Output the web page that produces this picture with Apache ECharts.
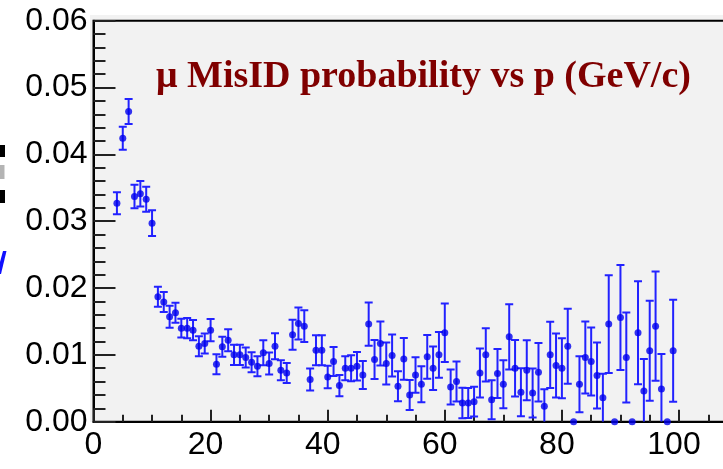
<!DOCTYPE html>
<html><head><meta charset="utf-8">
<script src="https://cdn.jsdelivr.net/npm/echarts@6/dist/echarts.min.js"></script>
<style>html,body{margin:0;padding:0;background:#fff}#c{width:723px;height:469px}</style>
</head><body><div id="c"></div>
<script>
// momentum bin centres (GeV/c)
const binCenters = [4,5,6,7,8,9,10,11,12,13,14,15,16,17,18,19,20,21,22,23,24,25,26,27,28,29,30,31,32,33,34,35,36,37,38,39,40,41,42,43,44,45,46,47,48,49,50,51,52,53,54,55,56,57,58,59,60,61,62,63,64,65,66,67,68,69,70,71,72,73,74,75,76,77,78,79,80,81,82,83,84,85,86,87,88,89,90,91,92,93,94,95,96,97,98,99];
// mis-ID probability
const probability = [0.0327,0.0424,0.0464,0.0337,0.0341,0.0333,0.0297,0.0187,0.0179,0.0157,0.0163,0.0140,0.0140,0.0137,0.0113,0.0117,0.0137,0.0086,0.0112,0.0122,0.0100,0.0100,0.0096,0.0089,0.0083,0.0103,0.0087,0.0113,0.0077,0.0073,0.0130,0.0147,0.0143,0.0063,0.0107,0.0107,0.0067,0.0090,0.0054,0.0080,0.0080,0.0083,0.0070,0.0146,0.0093,0.0117,0.0087,0.0099,0.0053,0.0094,0.0040,0.0070,0.0056,0.0097,0.0080,0.0100,0.0133,0.0052,0.0060,0.0028,0.0028,0.0030,0.0073,0.0100,0.0033,0.0072,0.0056,0.0127,0.0080,0.0044,0.0077,0.0043,0.0074,0.0023,0.0100,0.0084,0.0080,0.0113,0.0000,0.0056,0.0096,0.0090,0.0069,0.0036,0.0146,0.0000,0.0156,0.0096,0.0000,0.0133,0.0046,0.0106,0.0143,0.0049,0.0000,0.0106];
// statistical uncertainty
const probErr = [0.00165,0.00172,0.00187,0.00175,0.0019,0.00187,0.00192,0.0015,0.0015,0.00165,0.0015,0.00142,0.0015,0.0015,0.0015,0.0015,0.00165,0.0015,0.0015,0.00165,0.0015,0.0015,0.0015,0.0015,0.0015,0.00187,0.00165,0.00195,0.0015,0.0015,0.00224,0.00239,0.00239,0.00165,0.00224,0.00224,0.00169,0.00217,0.0016,0.0018,0.00195,0.00214,0.0021,0.00325,0.00292,0.00329,0.00314,0.00314,0.00224,0.00314,0.00224,0.00265,0.00269,0.00329,0.00325,0.00341,0.00438,0.00262,0.00299,0.00229,0.00224,0.00224,0.00367,0.004,0.00292,0.00367,0.00359,0.00489,0.00423,0.00359,0.00449,0.00367,0.00438,0.00254,0.00494,0.00479,0.00449,0.00561,0,0.00419,0.00539,0.00509,0.00494,0.00359,0.00733,0,0.00786,0.00673,0,0.00771,0.00479,0.00748,0.00818,0.00524,0,0.00763];
const xTickValues = [0, 20, 40, 60, 80, 100];
const yTickLabels = ['0.00','0.01','0.02','0.03','0.04','0.05','0.06'];
const titleText = 'μ MisID probability vs p (GeV/c)';

const chart = echarts.init(document.getElementById('c'), null, {renderer: 'canvas'});
const pts = binCenters.map((x, i) => [x, probability[i], probErr[i]]);
const barColor = '#2222ff';

const option = {
  animation: false,
  backgroundColor: '#ffffff',
  grid: {left: 93.5, top: 20.7, width: 702.6, height: 401, show: true,
         outerBoundsMode: 'none', containLabel: false,
         backgroundColor: 'transparent', borderColor: '#000', borderWidth: 2},
  graphic: [
    {type: 'rect', z: -10, shape: {x: 90, y: 15, width: 640, height: 407}, style: {fill: '#f2f2f2'}},
    {type: 'rect', shape: {x: 0, y: 145, width: 5, height: 12}, style: {fill: '#000'}},
    {type: 'rect', shape: {x: 0, y: 165, width: 4.5, height: 14}, style: {fill: '#b4b4b4'}},
    {type: 'rect', shape: {x: 0, y: 190, width: 5, height: 13}, style: {fill: '#000'}},
    {type: 'polygon', shape: {points: [[3, 251], [6.5, 251], [1, 274], [0, 274], [0, 262]]}, style: {fill: '#1010ff'}},
    {type: 'text', x: 156, y: 77, style: {text: titleText, fill: '#800000',
      font: 'bold 38px "Liberation Serif", "DejaVu Serif", serif', textVerticalAlign: 'middle', verticalAlign: 'middle'}}
  ],
  xAxis: {
    type: 'value', min: 0, max: 120, interval: 20,
    axisLine: {show: true, onZero: false, lineStyle: {color: '#000', width: 2}},
    axisTick: {show: true, inside: true, length: 12, lineStyle: {color: '#222', width: 2}},
    minorTick: {show: true, splitNumber: 4, length: 7, lineStyle: {color: '#222', width: 2}},
    splitLine: {show: false},
    axisLabel: {
      margin: 7, color: '#000', fontSize: 32, fontFamily: '"Liberation Sans", Arial, sans-serif',
      showMaxLabel: false,
      formatter: v => (xTickValues.indexOf(v) < 0 ? '' : (v === 0 ? '{a|0}' : '{b|' + v + '}')),
      rich: {
        a: {fontSize: 32, fontFamily: '"Liberation Sans", Arial, sans-serif', color: '#000'},
        b: {fontSize: 32, fontFamily: '"Liberation Sans", Arial, sans-serif', color: '#000', padding: [0, 10, 0, 0]}
      }
    }
  },
  yAxis: {
    type: 'value', min: 0, max: 0.06, interval: 0.01,
    axisLine: {show: true, onZero: false, lineStyle: {color: '#000', width: 2}},
    axisTick: {show: true, inside: true, length: 22, lineStyle: {color: '#222', width: 2}},
    minorTick: {show: true, splitNumber: 5, length: 12, lineStyle: {color: '#222', width: 2}},
    splitLine: {show: false},
    axisLabel: {
      margin: 6, color: '#000', fontSize: 32, fontFamily: '"Liberation Sans", Arial, sans-serif',
      formatter: v => yTickLabels[Math.round(v * 100)]
    }
  },
  series: [
    {
      type: 'custom', clip: true, z: 3,
      data: pts,
      encode: {x: 0, y: 1},
      renderItem: function (params, api) {
        const x = api.value(0), y = api.value(1), e = api.value(2);
        if (!(e > 0)) return null;
        const top = api.coord([x, y + e]);
        const lo = Math.max(y - e, 0);
        const bot = api.coord([x, lo]);
        const st = {stroke: barColor, lineWidth: 2};
        const hw = 4;
        const ch = [
          {type: 'line', shape: {x1: top[0], y1: top[1], x2: bot[0], y2: bot[1]}, style: st},
          {type: 'line', shape: {x1: top[0] - hw, y1: top[1], x2: top[0] + hw, y2: top[1]}, style: st}
        ];
        if (y - e > 0.0001) ch.push({type: 'line', shape: {x1: bot[0] - hw, y1: bot[1], x2: bot[0] + hw, y2: bot[1]}, style: st});
        return {type: 'group', children: ch};
      }
    },
    {
      type: 'scatter', z: 4,
      data: pts.map(p => [p[0], p[1]]),
      symbol: 'circle', symbolSize: 7,
      itemStyle: {color: '#0000ee'},
      clip: false
    }
  ]
};
chart.setOption(option);
</script>
</body></html>
